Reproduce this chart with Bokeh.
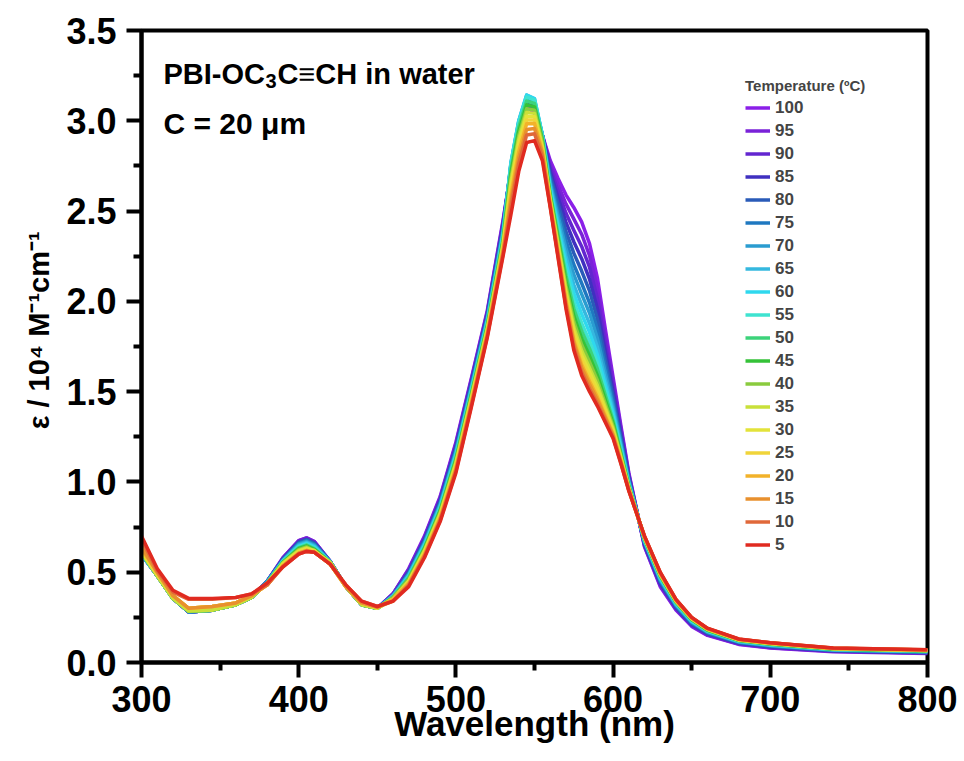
from bokeh.plotting import figure
from bokeh.models import Range1d, FixedTicker, PrintfTickFormatter, Label
from bokeh.embed import file_html
from bokeh.resources import INLINE

# Wavelength grid (nm)
wavelength = [300, 310, 320, 330, 345, 360, 370, 380, 390, 400,
              405, 410, 420, 430, 440, 450, 460, 470, 480, 490,
              500, 510, 520, 530, 535, 540, 545, 550, 555, 560,
              565, 570, 575, 580, 585, 590, 595, 600, 605, 610,
              620, 630, 640, 650, 660, 680, 700, 740, 800]

temperatures = [100, 95, 90, 85, 80, 75, 70, 65, 60, 55,
                50, 45, 40, 35, 30, 25, 20, 15, 10, 5]

x_major = [300, 400, 500, 600, 700, 800]
x_minor = [350, 450, 550, 650, 750]
y_major = [0.0, 0.5, 1.0, 1.5, 2.0, 2.5, 3.0, 3.5]
y_minor = [0.25, 0.75, 1.25, 1.75, 2.25, 2.75, 3.25]

# epsilon / 10^4 M^-1 cm^-1
eps_100 = [.60, .48, .355, .28, .29, .32, .36, .45, .58, .675, .69, .67, .56, .42, .32, .30, .38, .52, .70, .92,
           1.22, 1.58, 1.95, 2.45, 2.72, 2.95, 3.08, 3.04, 2.92, 2.78, 2.68, 2.59, 2.52, 2.44, 2.32, 2.13, 1.85, 1.58, 1.31, 1.05,
           .64, .42, .29, .20, .15, .10, .08, .06, .05]
eps_95 = [.60, .48, .355, .28, .29, .32, .36, .45, .58, .675, .69, .67, .56, .42, .32, .30, .38, .515, .694, .913,
          1.211, 1.572, 1.942, 2.439, 2.727, 2.957, 3.089, 3.052, 2.92, 2.759, 2.645, 2.540, 2.457, 2.372, 2.254, 2.073, 1.808, 1.553, 1.293, 1.042,
          .645, .426, .295, .204, .153, .102, .082, .062, .052]
eps_90 = [.60, .48, .355, .28, .29, .32, .36, .45, .575, .67, .685, .665, .56, .42, .32, .30, .38, .51, .687, .905,
          1.202, 1.563, 1.934, 2.429, 2.734, 2.965, 3.098, 3.063, 2.921, 2.738, 2.610, 2.489, 2.394, 2.304, 2.189, 2.016, 1.767, 1.526, 1.276, 1.034,
          .65, .433, .30, .208, .156, .105, .085, .063, .053]
eps_85 = [.60, .48, .355, .28, .29, .32, .36, .45, .575, .665, .68, .66, .56, .42, .32, .30, .37, .50, .681, .898,
          1.193, 1.555, 1.926, 2.418, 2.741, 2.972, 3.107, 3.075, 2.921, 2.718, 2.574, 2.439, 2.330, 2.236, 2.123, 1.960, 1.725, 1.498, 1.260, 1.026,
          .654, .439, .304, .212, .16, .107, .087, .065, .055]
eps_80 = [.60, .48, .355, .28, .29, .32, .36, .45, .57, .665, .68, .66, .56, .42, .32, .30, .37, .50, .675, .891,
          1.184, 1.546, 1.918, 2.408, 2.747, 2.979, 3.116, 3.086, 2.92, 2.697, 2.539, 2.388, 2.267, 2.168, 2.058, 1.903, 1.684, 1.471, 1.243, 1.018,
          .659, .446, .309, .216, .163, .11, .09, .066, .056]
eps_75 = [.60, .48, .355, .28, .29, .32, .36, .45, .57, .66, .675, .655, .56, .42, .32, .30, .37, .49, .668, .883,
          1.175, 1.538, 1.911, 2.397, 2.754, 2.987, 3.125, 3.098, 2.92, 2.676, 2.504, 2.338, 2.204, 2.100, 1.992, 1.846, 1.642, 1.444, 1.226, 1.010,
          .664, .452, .314, .22, .166, .112, .092, .068, .058]
eps_70 = [.60, .48, .355, .28, .29, .32, .36, .45, .565, .655, .67, .65, .56, .42, .32, .30, .37, .49, .662, .876,
          1.166, 1.529, 1.903, 2.387, 2.761, 2.994, 3.134, 3.109, 2.92, 2.658, 2.473, 2.294, 2.149, 2.040, 1.935, 1.796, 1.606, 1.420, 1.211, 1.003,
          .668, .458, .318, .224, .169, .114, .094, .069, .059]
eps_65 = [.60, .48, .355, .285, .29, .32, .36, .44, .565, .65, .665, .645, .555, .42, .32, .30, .37, .48, .656, .868,
          1.157, 1.521, 1.895, 2.376, 2.768, 3.002, 3.143, 3.121, 2.92, 2.640, 2.442, 2.250, 2.093, 1.981, 1.877, 1.747, 1.569, 1.396, 1.197, .996,
          .672, .463, .322, .227, .172, .116, .096, .071, .061]
eps_60 = [.60, .48, .355, .285, .29, .32, .36, .44, .56, .645, .66, .64, .555, .42, .32, .30, .36, .48, .649, .861,
          1.148, 1.513, 1.887, 2.366, 2.765, 2.999, 3.142, 3.123, 2.92, 2.624, 2.416, 2.212, 2.046, 1.930, 1.828, 1.704, 1.538, 1.376, 1.184, .990,
          .676, .468, .326, .23, .174, .118, .098, .072, .062]
eps_55 = [.61, .48, .355, .285, .29, .32, .36, .44, .56, .64, .655, .635, .555, .42, .32, .30, .36, .47, .643, .854,
          1.139, 1.504, 1.879, 2.355, 2.752, 2.986, 3.131, 3.114, 2.91, 2.608, 2.390, 2.174, 1.999, 1.879, 1.779, 1.661, 1.507, 1.356, 1.171, .984,
          .68, .473, .33, .233, .176, .12, .10, .073, .063]
eps_50 = [.61, .48, .355, .285, .29, .32, .36, .44, .555, .635, .65, .63, .555, .42, .32, .30, .36, .47, .637, .846,
          1.131, 1.496, 1.871, 2.345, 2.728, 2.964, 3.109, 3.096, 2.90, 2.595, 2.368, 2.143, 1.959, 1.836, 1.738, 1.626, 1.481, 1.339, 1.161, .979,
          .683, .477, .333, .236, .178, .121, .101, .074, .064]
eps_45 = [.61, .48, .355, .285, .29, .32, .36, .44, .555, .63, .645, .625, .555, .42, .32, .30, .36, .46, .631, .839,
          1.122, 1.487, 1.863, 2.334, 2.705, 2.941, 3.088, 3.077, 2.89, 2.582, 2.346, 2.111, 1.920, 1.794, 1.697, 1.590, 1.455, 1.322, 1.150, .974,
          .686, .481, .336, .238, .18, .123, .103, .075, .065]
eps_40 = [.61, .48, .355, .285, .29, .32, .36, .44, .55, .625, .64, .62, .555, .42, .32, .30, .36, .46, .624, .832,
          1.113, 1.479, 1.855, 2.324, 2.682, 2.918, 3.067, 3.059, 2.88, 2.572, 2.328, 2.086, 1.888, 1.760, 1.664, 1.562, 1.434, 1.308, 1.142, .970,
          .688, .484, .338, .24, .182, .124, .104, .076, .066]
eps_35 = [.61, .48, .355, .285, .29, .32, .36, .44, .55, .62, .635, .615, .555, .42, .32, .30, .35, .45, .618, .824,
          1.104, 1.471, 1.847, 2.313, 2.659, 2.896, 3.046, 3.041, 2.86, 2.562, 2.310, 2.061, 1.856, 1.726, 1.631, 1.534, 1.413, 1.294, 1.134, .966,
          .69, .487, .34, .242, .184, .125, .105, .077, .067]
eps_30 = [.62, .49, .37, .30, .31, .33, .37, .43, .545, .615, .63, .62, .545, .42, .33, .30, .35, .45, .612, .817,
          1.095, 1.462, 1.839, 2.303, 2.636, 2.873, 3.025, 3.022, 2.85, 2.554, 2.297, 2.042, 1.833, 1.700, 1.607, 1.512, 1.398, 1.284, 1.127, .963,
          .692, .49, .342, .244, .185, .126, .106, .077, .067]
eps_25 = [.63, .49, .37, .30, .31, .33, .37, .43, .54, .61, .625, .615, .545, .42, .33, .305, .35, .44, .605, .809,
          1.086, 1.454, 1.832, 2.292, 2.613, 2.851, 3.004, 3.004, 2.84, 2.546, 2.284, 2.023, 1.809, 1.675, 1.582, 1.491, 1.382, 1.274, 1.121, .960,
          .694, .492, .344, .245, .186, .127, .107, .078, .068]
eps_20 = [.63, .50, .37, .30, .31, .33, .37, .43, .535, .605, .62, .61, .545, .42, .33, .305, .35, .44, .599, .802,
          1.077, 1.445, 1.824, 2.282, 2.589, 2.828, 2.983, 2.985, 2.83, 2.538, 2.271, 2.004, 1.785, 1.649, 1.557, 1.470, 1.366, 1.264, 1.115, .957,
          .696, .494, .346, .247, .187, .128, .108, .079, .069]
eps_15 = [.64, .50, .37, .30, .31, .33, .37, .43, .535, .605, .62, .61, .545, .42, .33, .305, .34, .43, .593, .795,
          1.068, 1.437, 1.816, 2.271, 2.556, 2.795, 2.952, 2.957, 2.82, 2.533, 2.262, 1.991, 1.769, 1.632, 1.541, 1.455, 1.356, 1.257, 1.110, .955,
          .697, .496, .347, .248, .188, .129, .109, .079, .069]
eps_10 = [.68, .51, .39, .35, .35, .36, .38, .43, .53, .60, .615, .61, .545, .43, .34, .31, .34, .43, .586, .787,
          1.059, 1.428, 1.808, 2.261, 2.523, 2.763, 2.921, 2.928, 2.80, 2.525, 2.249, 1.973, 1.746, 1.607, 1.516, 1.434, 1.340, 1.247, 1.104, .952,
          .699, .498, .349, .249, .189, .129, .109, .08, .07]
eps_5 = [.70, .52, .40, .355, .355, .36, .38, .44, .53, .60, .615, .61, .545, .43, .34, .31, .34, .42, .58, .78,
         1.05, 1.42, 1.80, 2.25, 2.48, 2.72, 2.88, 2.89, 2.78, 2.52, 2.24, 1.96, 1.73, 1.59, 1.50, 1.42, 1.33, 1.24, 1.10, .95,
         .70, .50, .35, .25, .19, .13, .11, .08, .07]

series = [eps_100, eps_95, eps_90, eps_85, eps_80, eps_75, eps_70, eps_65, eps_60, eps_55,
          eps_50, eps_45, eps_40, eps_35, eps_30, eps_25, eps_20, eps_15, eps_10, eps_5]

colors = ["#8B1FE8", "#7A22D8", "#6326D0", "#4030C0", "#2A5BB8", "#1F78C0", "#2A9CD0", "#35B8DF", "#2FD8EE", "#3FE3D0",
          "#3CD37A", "#35C238", "#8ACB3E", "#C9E03A", "#E3E33A", "#F0D43A", "#F2B22A", "#E8902E", "#E0683A", "#E02A20"]

FONT = "Liberation Sans"

p = figure(width=964, height=761, output_backend="svg", toolbar_location=None,
           x_range=Range1d(300, 800), y_range=Range1d(0, 3.5),
           min_border_left=141, min_border_right=37, min_border_top=30, min_border_bottom=99,
           background_fill_color="white", border_fill_color="white")

p.xgrid.visible = False
p.ygrid.visible = False
p.outline_line_color = "black"
p.outline_line_width = 4
p.outline_line_alpha = 1.0

p.xaxis.ticker = FixedTicker(ticks=x_major, minor_ticks=x_minor)
p.yaxis.ticker = FixedTicker(ticks=y_major, minor_ticks=y_minor)
p.yaxis.formatter = PrintfTickFormatter(format="%.1f")

p.xaxis.axis_label = "Wavelength (nm)"
p.yaxis.axis_label = "\u00a0\u00a0\u00a0\u00a0ε / 10⁴ M⁻¹cm⁻¹"

for ax in (p.xaxis[0], p.yaxis[0]):
    ax.axis_line_width = 4
    ax.axis_line_color = "black"
    ax.major_tick_line_width = 4
    ax.minor_tick_line_width = 4
    ax.major_tick_line_color = "black"
    ax.minor_tick_line_color = "black"
    ax.minor_tick_line_alpha = 1.0
    ax.major_tick_out = 15
    ax.major_tick_in = 0
    ax.minor_tick_out = 8
    ax.minor_tick_in = 0
    ax.major_label_text_font = FONT
    ax.major_label_text_font_style = "bold"
    ax.major_label_text_font_size = "36px"
    ax.major_label_text_color = "black"
    ax.axis_label_text_font = FONT
    ax.axis_label_text_font_style = "bold"
    ax.axis_label_text_color = "black"

p.xaxis.major_label_standoff = 8
p.yaxis.major_label_standoff = 10
p.xaxis.axis_label_text_font_size = "35px"
p.xaxis.axis_label_standoff = -11
p.yaxis.axis_label_text_font_size = "29px"
p.yaxis.axis_label_standoff = 8

for T, ys, c in zip(temperatures, series, colors):
    p.line(wavelength, ys, line_color=c, line_width=3.5, line_join="round", legend_label=str(T))

leg = p.legend[0]
leg.location = (604, 106)
leg.title = "Temperature (ºC)"
leg.title_text_font = FONT
leg.title_text_font_style = "bold"
leg.title_text_font_size = "15px"
leg.title_standoff = 2
leg.label_text_font = FONT
leg.label_text_font_style = "bold"
leg.label_text_font_size = "17px"
leg.glyph_width = 25
leg.glyph_height = 23
leg.label_height = 23
leg.label_standoff = 5
leg.spacing = 0
leg.padding = 0
leg.margin = 0
leg.background_fill_alpha = 0
leg.border_line_alpha = 0

# Title "PBI-OC3C≡CH in water" with a true subscript 3, and the concentration line
t1a = Label(x=314, y=3.26, text="PBI-OC", text_font=FONT, text_font_style="bold",
            text_font_size="29px", text_baseline="alphabetic", text_color="black")
t1b = Label(x=314, y=3.222, x_offset=102, text="3", text_font=FONT, text_font_style="bold",
            text_font_size="20px", text_baseline="alphabetic", text_color="black")
t1c = Label(x=314, y=3.26, x_offset=114, text="C≡CH in water", text_font=FONT, text_font_style="bold",
            text_font_size="29px", text_baseline="alphabetic", text_color="black")
title2 = Label(x=314, y=2.985, text="C = 20 μm", text_font=FONT, text_font_style="bold",
               text_font_size="30px", text_baseline="alphabetic", text_color="black")
for lab in (t1a, t1b, t1c, title2):
    p.add_layout(lab)

open("out.html", "w").write(file_html(p, INLINE))
